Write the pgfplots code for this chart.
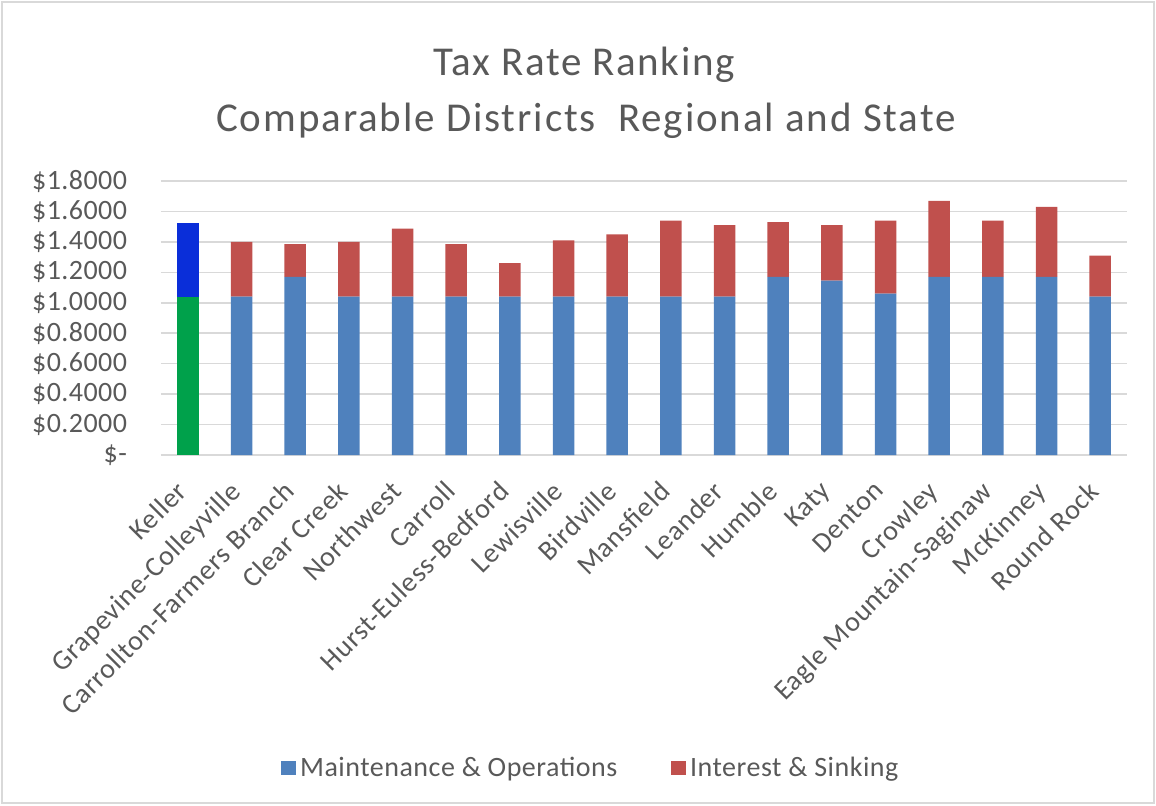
\documentclass[border=0pt]{standalone}
\usepackage{pgfplots}
\pgfplotsset{compat=1.18}
\usepackage{fontspec}
\setmainfont{Carlito}
\definecolor{mo}{HTML}{4F81BD}
\definecolor{is}{HTML}{C0504D}
\definecolor{kg}{HTML}{00A14B}
\definecolor{kb}{HTML}{0A2ED9}
\definecolor{txt}{HTML}{595959}
\definecolor{gridc}{HTML}{D9D9D9}
\pgfplotstableread{
x mo is kg kb
0  0     0      1.04 0.4855
1  1.04  0.36   0    0
2  1.17  0.215  0    0
3  1.04  0.36   0    0
4  1.04  0.4475 0    0
5  1.04  0.345  0    0
6  1.04  0.22   0    0
7  1.04  0.37   0    0
8  1.04  0.41   0    0
9  1.04  0.50   0    0
10 1.04  0.47   0    0
11 1.17  0.36   0    0
12 1.145 0.365  0    0
13 1.06  0.48   0    0
14 1.17  0.50   0    0
15 1.17  0.37   0    0
16 1.17  0.46   0    0
17 1.04  0.27   0    0
}\data
\begin{document}
\begin{tikzpicture}
\useasboundingbox (0,0) rectangle (578pt,-402.5pt);
\draw[gridc, line width=0.6pt] (1pt,-1pt) rectangle (577pt,-401.5pt);
\node[txt, font=\fontsize{20.5}{24}\selectfont\addfontfeature{LetterSpace=4}] at (292pt,-32.5pt) {Tax Rate Ranking};
\node[txt, font=\fontsize{20.5}{24}\selectfont\addfontfeature{LetterSpace=4.6}] at (293pt,-60.5pt) {Comparable Districts\ \ Regional and State};
\begin{axis}[
  at={(80.5pt,-227.5pt)}, anchor=south west, scale only axis,
  width=483pt, height=137pt,
  ybar stacked, bar width=10.75pt,
  xmin=-0.5, xmax=17.5, ymin=0, ymax=1.8,
  ytick={0,0.2,0.4,0.6,0.8,1.0,1.2,1.4,1.6,1.8},
  yticklabels={\$-\hspace{13.5pt},\$0.2000,\$0.4000,\$0.6000,\$0.8000,\$1.0000,\$1.2000,\$1.4000,\$1.6000,\$1.8000},
  xtick={0,...,17},
  xticklabels={Keller,Grapevine-Colleyville,Carrollton-Farmers Branch,Clear Creek,Northwest,Carroll,Hurst-Euless-Bedford,Lewisville,Birdville,Mansfield,Leander,Humble,Katy,Denton,Crowley,Eagle Mountain-Saginaw,McKinney,Round Rock},
  ymajorgrids, grid style={gridc, line width=0.8pt},
  axis line style={draw=none},
  major tick length=0pt, tick style={draw=none},
  ticklabel style={txt},
  yticklabel style={anchor=east, xshift=-13.5pt, font=\fontsize{14}{16}\selectfont\addfontfeature{LetterSpace=1.5}},
  xticklabel style={xshift=-6.5pt, yshift=-12pt, rotate=45, anchor=north east, inner sep=0pt, font=\fontsize{14}{16}\selectfont\addfontfeature{LetterSpace=2.6}},
  legend style={at={(0.446,-1.142)}, anchor=center, draw=none, fill=none,
    legend columns=2, font=\fontsize{14}{16}\selectfont\addfontfeature{LetterSpace=1.8}, text=txt,
    /tikz/every even column/.append style={column sep=25pt}},
  legend image code/.code={\fill[#1] (-5pt,-3.7pt) rectangle (2.4pt,3.7pt);},
]
\addplot[fill=mo, draw=none] table[x=x, y=mo] {\data};
\addplot[fill=is, draw=none] table[x=x, y=is] {\data};
\addplot[fill=kg, draw=none] table[x=x, y=kg] {\data};
\addplot[fill=kb, draw=none] table[x=x, y=kb] {\data};
\legend{Maintenance \& Operations, Interest \& Sinking}
\end{axis}
\end{tikzpicture}
\end{document}
